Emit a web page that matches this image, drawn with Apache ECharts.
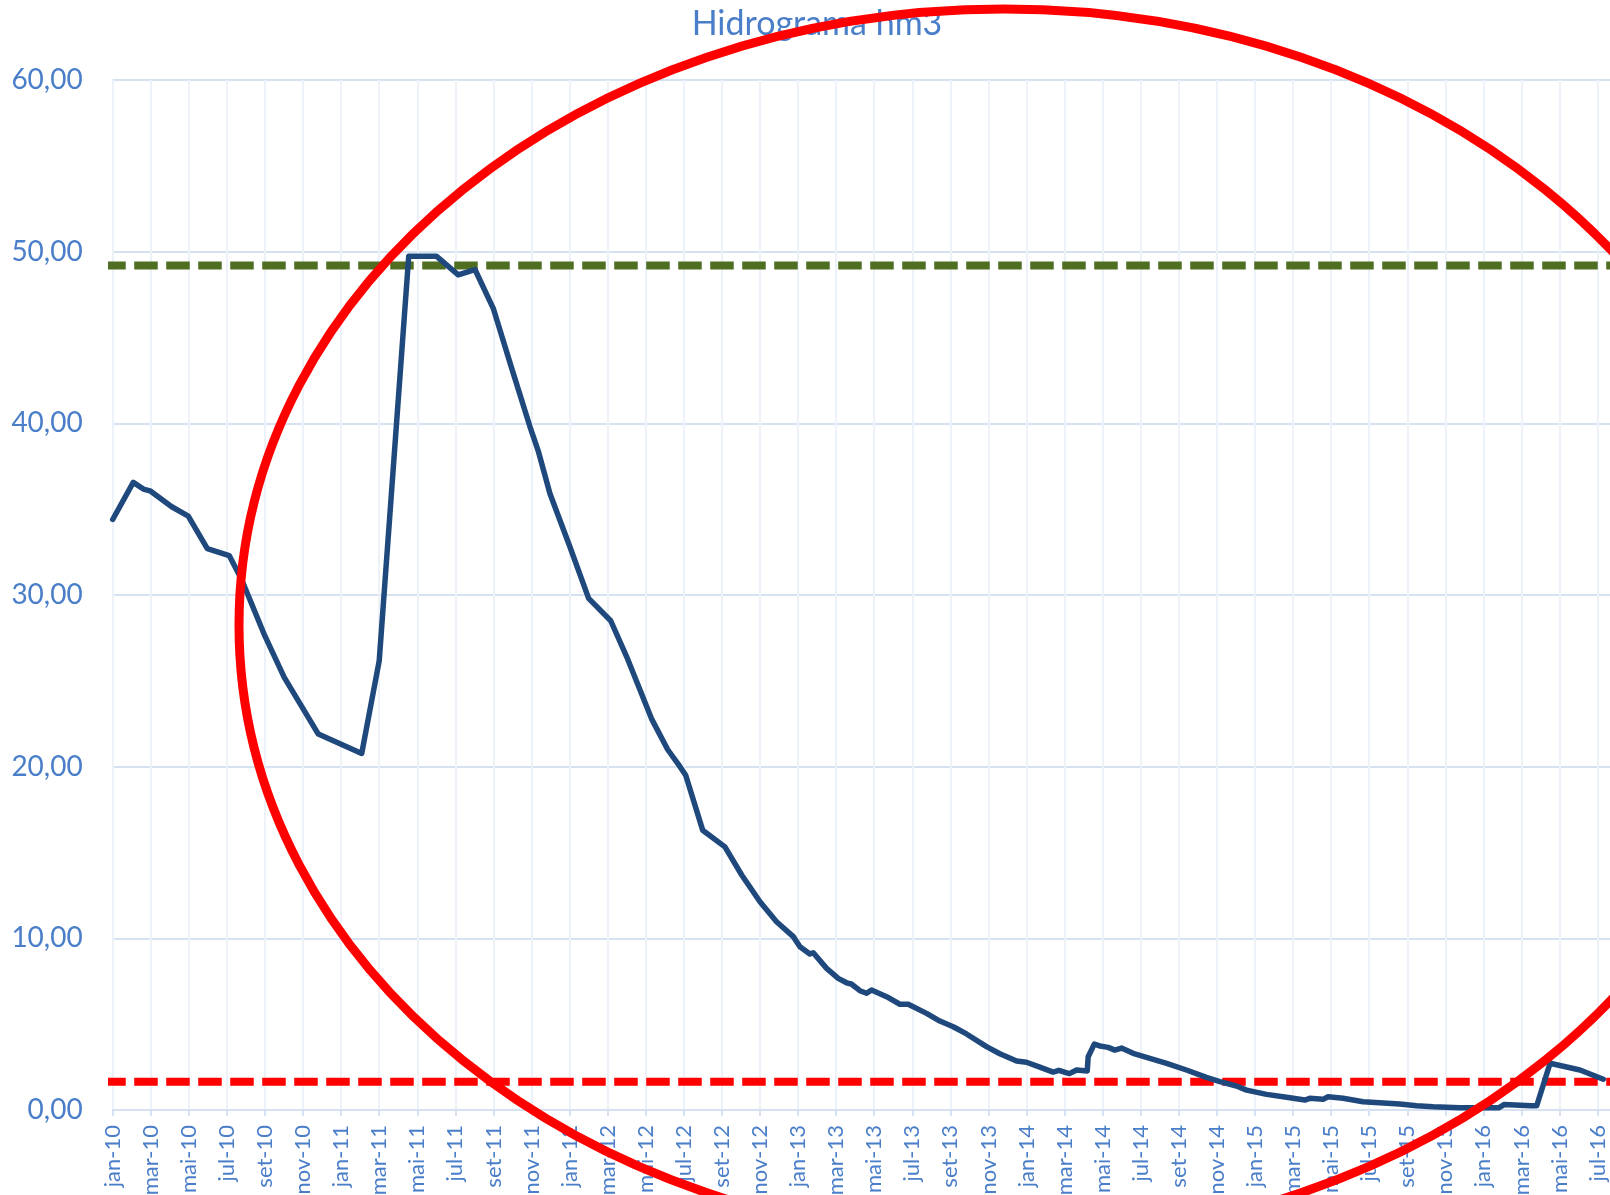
<!DOCTYPE html>
<html>
<head>
<meta charset="utf-8">
<script src="https://cdn.jsdelivr.net/npm/echarts@6/dist/echarts.min.js"></script>
<style>
  html, body { margin: 0; padding: 0; background: #ffffff; }
  #chart { width: 1610px; height: 1195px; }
</style>
</head>
<body>
<div id="chart"></div>
<script>
// ---- data (x = months since jan-10, y = volume hm3) ----
const monthPos = [
  0, 1.08, 1.61, 1.96, 3.1, 3.97, 4.97, 6.12, 6.77, 8.0, 9.01, 10.8, 13.08, 14.0, 15.55, 17.0,
  18.15, 19.03, 19.99, 20.96, 21.92, 22.35, 22.97, 24.02, 25.0, 26.16, 27.0, 28.3, 29.15, 29.8,
  30.1, 30.99, 32.16, 33.04, 34.0, 34.87, 35.75, 36.1, 36.62, 36.8, 37.5, 38.11, 38.55, 38.8,
  39.25, 39.6, 39.86, 40.65, 41.35, 41.79, 42.75, 43.45, 44.15, 44.85, 45.9, 46.6, 47.48, 48.0,
  48.7, 49.4, 49.7, 50.25, 50.63, 51.19, 51.24, 51.56, 51.85, 52.29, 52.64, 52.99, 53.6, 54.48,
  55.36, 56.4, 57.45, 58.16, 59.03, 59.56, 60.61, 61.66, 62.62, 62.88, 63.58, 63.84, 64.63,
  65.68, 67.6, 68.49, 69.36, 70.76, 72.8, 73.1, 74.5, 74.8, 75.5, 77.07, 78.3
];
const volume = [
  34.4, 36.56, 36.17, 36.07, 35.14, 34.6, 32.7, 32.3, 30.9, 27.6, 25.2, 21.9, 20.77, 26.17, 49.74, 49.74,
  48.65, 48.96, 46.7, 43.2, 39.8, 38.4, 35.9, 32.8, 29.8, 28.5, 26.4, 22.8, 21.0, 20.0,
  19.5, 16.3, 15.33, 13.69, 12.13, 10.97, 10.1, 9.51, 9.09, 9.16, 8.25, 7.67, 7.41, 7.34,
  6.95, 6.8, 6.99, 6.6, 6.16, 6.16, 5.63, 5.18, 4.85, 4.43, 3.69, 3.28, 2.85, 2.78,
  2.5, 2.21, 2.31, 2.12, 2.33, 2.27, 3.1, 3.84, 3.73, 3.65, 3.49, 3.61, 3.3, 3.01,
  2.72, 2.33, 1.9, 1.65, 1.4, 1.16, 0.91, 0.74, 0.58, 0.68, 0.62, 0.77, 0.68,
  0.48, 0.35, 0.25, 0.19, 0.13, 0.13, 0.32, 0.25, 0.25, 2.72, 2.33, 1.79
];
const upperLimit = 49.2;
const lowerLimit = 1.65;
const limitSpan = [-0.55, 78.65];

const tickMonths = [0,2,4,6,8,10,12,14,16,18,20,22,24,26,28,30,32,34,36,38,40,42,44,46,48,50,52,54,56,58,60,62,64,66,68,70,72,74,76,78];
const tickLabels = [
  'jan-10','mar-10','mai-10','jul-10','set-10','nov-10',
  'jan-11','mar-11','mai-11','jul-11','set-11','nov-11',
  'jan-12','mar-12','mai-12','jul-12','set-12','nov-12',
  'jan-13','mar-13','mai-13','jul-13','set-13','nov-13',
  'jan-14','mar-14','mai-14','jul-14','set-14','nov-14',
  'jan-15','mar-15','mai-15','jul-15','set-15','nov-15',
  'jan-16','mar-16','mai-16','jul-16'
];
const yTicks = [0, 10, 20, 30, 40, 50, 60];

// annotation ellipse (hand-drawn highlight)
const highlight = { cx: 1004, cy: 625, rx: 765, ry: 616 };

const FONT = 'Lato';
const BLUE = '#4a7ec9';

const chart = echarts.init(document.getElementById('chart'), null, { renderer: 'canvas' });

const seriesData = monthPos.map((m, i) => [m, volume[i]]);

chart.setOption({
  animation: false,
  backgroundColor: '#ffffff',
  title: {
    text: 'Hidrograma hm3',
    left: 812,
    textAlign: 'center',
    top: 2,
    textStyle: { color: BLUE, fontFamily: FONT, fontSize: 34, fontWeight: 'normal' }
  },
  grid: { left: 112.7, right: 0, top: 80, bottom: 85, containLabel: false, outerBoundsMode: 'none' },
  xAxis: {
    type: 'value',
    min: 0,
    max: 78.65,
    interval: 1,
    axisLine: { show: true, lineStyle: { color: '#d6e2f2', width: 2 } },
    axisTick: { show: true, customValues: tickMonths, length: 6, lineStyle: { color: '#d6e2f2', width: 2 } },
    axisLabel: {
      customValues: tickMonths,
      rotate: 90,
      margin: 15,
      color: BLUE,
      fontFamily: FONT,
      fontSize: 22,
      formatter: (v) => tickLabels[tickMonths.indexOf(Math.round(v))] || ''
    },
    splitLine: { show: true, lineStyle: { color: '#edf2f9', width: 2 } }
  },
  yAxis: {
    type: 'value',
    min: 0,
    max: 60,
    interval: 10,
    axisLine: { show: false },
    axisTick: { show: false },
    axisLabel: {
      margin: 30,
      color: BLUE,
      fontFamily: FONT,
      fontSize: 28,
      formatter: (v) => yTicks.includes(v) ? v.toFixed(2).replace('.', ',') : ''
    },
    splitLine: { show: true, lineStyle: { color: '#d6e2f2', width: 2 } }
  },
  series: [
    {
      name: 'Volume',
      type: 'line',
      data: seriesData,
      symbol: 'none',
      lineStyle: { color: '#1f497d', width: 5.5, join: 'round', cap: 'round' },
      z: 5
    },
    {
      name: 'Limite superior',
      type: 'line',
      data: limitSpan.map(x => [x, upperLimit]),
      symbol: 'none',
      clip: false,
      lineStyle: { color: '#4f6e22', width: 8, type: [23.5, 8.5] },
      z: 3
    },
    {
      name: 'Limite inferior',
      type: 'line',
      data: limitSpan.map(x => [x, lowerLimit]),
      symbol: 'none',
      clip: false,
      lineStyle: { color: '#ff0000', width: 8, type: [23.5, 8.5] },
      z: 3
    }
  ],
  graphic: [
    {
      type: 'ellipse',
      shape: highlight,
      style: { fill: 'none', stroke: '#ff0000', lineWidth: 9 },
      z: 100,
      silent: true
    }
  ]
});
</script>
</body>
</html>
